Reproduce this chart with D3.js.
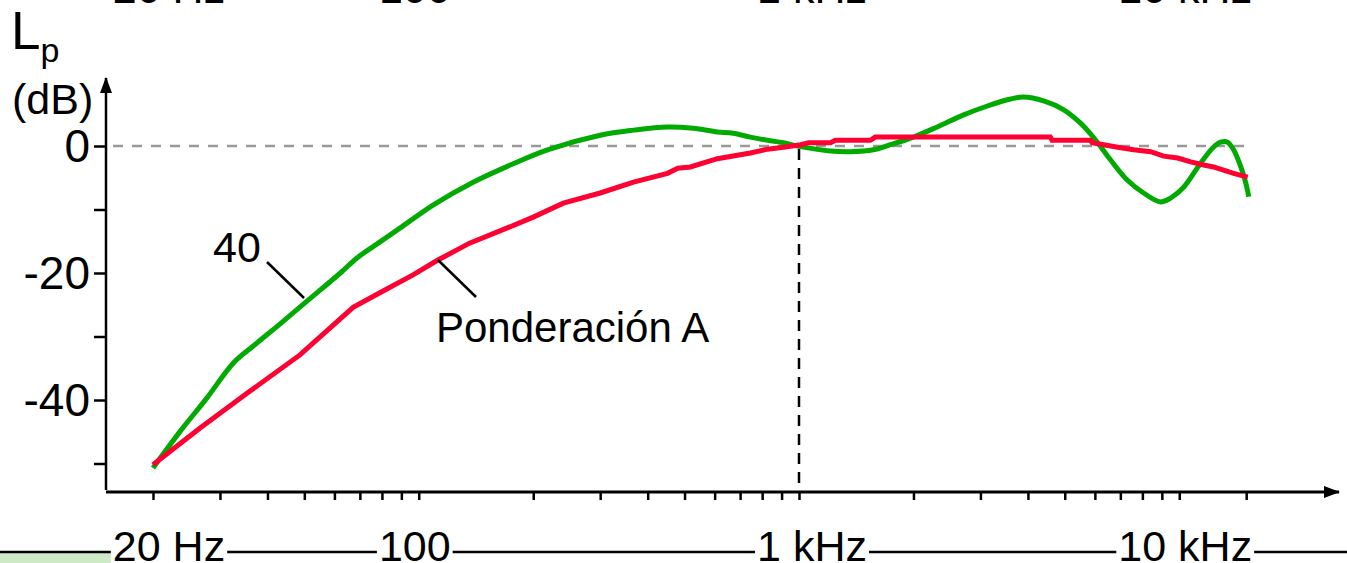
<!doctype html>
<html>
<head>
<meta charset="utf-8">
<script src="https://cdn.jsdelivr.net/npm/d3@7"></script>
<style>
  body { margin: 0; background: #fff; }
  svg { display: block; font-family: "Liberation Sans", Arial, sans-serif; }
</style>
</head>
<body>
<svg width="1347" height="563"></svg>
<script>
// ---- data ----
var freqTicks = [20, 30, 40, 50, 60, 70, 80, 90, 100,
                 200, 300, 400, 500, 600, 700, 800, 900, 1000,
                 2000, 3000, 4000, 5000, 6000, 7000, 8000, 9000, 10000, 15000];
var dbTicks = [0, -10, -20, -30, -40, -50];
var dbLabels = [0, -20, -40];
var bandFreqs = [20, 100, 1000, 10000];
var bandLabels = ["20 Hz", "100", "1 kHz", "10 kHz"];

// 40 phon curve
var greenFreq = [20, 23.6, 27.7, 32.5, 36.7, 43.2, 50.9, 62.2, 68.9, 79.1, 89.4, 109, 139, 174, 218,
                 300, 367, 451, 527, 610, 671, 745, 826, 910, 1010, 1210, 1365, 1570, 1740, 2000,
                 2310, 2710, 3130, 3600, 3890, 4400, 4970, 5500, 5960, 6600, 7310, 8060, 8930, 9490,
                 10270, 11380, 12300, 12850, 13400, 13900, 14520, 14960, 15240];
var greenDb = [-50.7, -44.9, -39.7, -34.2, -31.5, -28.0, -24.4, -20.0, -17.6, -15.1, -12.9, -9.3, -5.7, -3.0, -0.6,
               1.7, 2.5, 3.0, 2.8, 2.2, 2.0, 1.4, 0.9, 0.5, -0.1, -0.8, -0.9, -0.6, 0.2, 1.4,
               3.0, 4.9, 6.3, 7.4, 7.7, 7.1, 5.7, 3.6, 1.3, -2.2, -5.4, -7.4, -8.8, -8.2,
               -6.5, -2.7, -0.2, 0.6, 0.6, -0.6, -3.3, -5.8, -8.0];

// A weighting
var redFreq = [20, 26.6, 36, 48.7, 67.2, 79, 96.6, 112, 136, 171, 200, 240, 300, 367, 451, 480, 518,
               610, 745, 826, 910, 1010, 1060, 1210, 1247, 1540, 1587, 4580, 4630, 5850, 5900,
               6890, 7590, 8410, 9100, 9910, 10720, 11600, 12300, 13080, 13900, 15140];
var redDb = [-50.2, -44.4, -38.6, -32.9, -25.4, -23.1, -20.3, -18.0, -15.3, -12.9, -11.2, -9.0, -7.4, -5.7, -4.3, -3.5, -3.3,
             -2.0, -1.1, -0.5, -0.2, 0.2, 0.5, 0.5, 0.9, 0.9, 1.4, 1.4, 0.9, 0.9, 0.5,
             -0.2, -0.6, -0.9, -1.6, -1.9, -2.5, -3.0, -3.3, -3.8, -4.3, -4.9];

// ---- layout ----
var svg = d3.select("svg");
var xScale = d3.scaleLog().domain([20, 1000]).range([153, 799]);
var yScale = d3.scaleLinear().domain([0, -50]).range([146, 463.5]);
var axisX = 106, axisY = 492;
var labelShift = [16, -4, 13, 6];

svg.append("rect").attr("width", 1347).attr("height", 563).attr("fill", "#fff");

// arrow heads
var defs = svg.append("defs");
defs.append("marker")
    .attr("id", "arrow")
    .attr("markerUnits", "userSpaceOnUse")
    .attr("viewBox", "0 0 16 12")
    .attr("refX", 15).attr("refY", 6)
    .attr("markerWidth", 16).attr("markerHeight", 12)
    .attr("orient", "auto")
  .append("path")
    .attr("d", "M0,0 L16,6 L0,12 Z")
    .attr("fill", "#000");

// y axis
var yAxis = d3.axisLeft(yScale)
    .tickValues(dbTicks)
    .tickSize(12)
    .tickPadding(4)
    .tickFormat(function(d) { return dbLabels.indexOf(d) >= 0 ? d : ""; });
var yG = svg.append("g").attr("transform", "translate(" + axisX + ",0)").call(yAxis);
yG.select(".domain").remove();
yG.selectAll(".tick line").attr("stroke", "#000").attr("stroke-width", 2.5);
yG.selectAll(".tick text")
  .attr("fill", "#000")
  .attr("dy", "0.34em")
  .style("font-size", "46px")
  .style("font-family", "'Liberation Sans', Arial, sans-serif");

svg.append("line")
   .attr("x1", axisX).attr("y1", axisY - 2)
   .attr("x2", axisX).attr("y2", 78)
   .attr("stroke", "#000").attr("stroke-width", 2.5)
   .attr("marker-end", "url(#arrow)");

// x axis
var xAxis = d3.axisBottom(xScale)
    .tickValues(freqTicks)
    .tickSize(8)
    .tickFormat("");
var xG = svg.append("g").attr("transform", "translate(0," + axisY + ")").call(xAxis);
xG.select(".domain").remove();
xG.selectAll(".tick line").attr("stroke", "#000").attr("stroke-width", 2.5);

svg.append("line")
   .attr("x1", axisX).attr("y1", axisY)
   .attr("x2", 1339).attr("y2", axisY)
   .attr("stroke", "#000").attr("stroke-width", 3)
   .attr("marker-end", "url(#arrow)");

// 0 dB reference and 1 kHz marker
svg.append("line")
   .attr("x1", 113).attr("x2", xScale(15000))
   .attr("y1", yScale(0)).attr("y2", yScale(0))
   .attr("stroke", "#999").attr("stroke-width", 2.5)
   .attr("stroke-dasharray", "10,9");
svg.append("line")
   .attr("x1", xScale(1000)).attr("x2", xScale(1000))
   .attr("y1", yScale(0) + 3).attr("y2", axisY - 2)
   .attr("stroke", "#000").attr("stroke-width", 2.5)
   .attr("stroke-dasharray", "11,8");

// curves
var greenLine = d3.line()
    .x(function(d, i) { return xScale(greenFreq[i]); })
    .y(function(d) { return yScale(d); })
    .curve(d3.curveCatmullRom.alpha(0.5));
svg.append("path")
   .attr("d", greenLine(greenDb))
   .attr("fill", "none")
   .attr("stroke", "#00aa00")
   .attr("stroke-width", 5);

var redLine = d3.line()
    .x(function(d, i) { return xScale(redFreq[i]); })
    .y(function(d) { return yScale(d); });
svg.append("path")
   .attr("d", redLine(redDb))
   .attr("fill", "none")
   .attr("stroke", "#ff0033")
   .attr("stroke-width", 5);

// curve labels with leader lines
svg.append("line").attr("x1", 267).attr("y1", 262).attr("x2", 304).attr("y2", 298)
   .attr("stroke", "#000").attr("stroke-width", 2.5);
svg.append("text").attr("x", 213).attr("y", 262)
   .style("font-size", "43px").text("40");
svg.append("line").attr("x1", 438).attr("y1", 260).attr("x2", 476).attr("y2", 297)
   .attr("stroke", "#000").attr("stroke-width", 2.5);
svg.append("text").attr("x", 436).attr("y", 342)
   .style("font-size", "42px").text("Ponderación A");

// axis title
var title = svg.append("text").attr("x", 11).attr("y", 49).style("font-size", "53px");
title.append("tspan").text("L");
title.append("tspan").attr("dy", 13).style("font-size", "34px").text("p");
svg.append("text").attr("x", 12).attr("y", 114).style("font-size", "43px").text("(dB)");

// frequency band strip at the bottom
svg.append("rect").attr("x", 0).attr("y", 553).attr("width", 113).attr("height", 10)
   .attr("fill", "#cde9c6");
svg.append("line").attr("x1", 0).attr("x2", 1347).attr("y1", 552).attr("y2", 552)
   .attr("stroke", "#000").attr("stroke-width", 2.5);

function bandRow(y, withBg) {
  bandLabels.forEach(function(lab, i) {
    var cx = xScale(bandFreqs[i]) + labelShift[i];
    var t = svg.append("text")
       .attr("x", cx).attr("y", y)
       .attr("text-anchor", "middle")
       .style("font-size", "43px")
       .text(lab);
    if (withBg) {
      var w = t.node().getComputedTextLength();
      svg.insert("rect", function() { return t.node(); })
         .attr("x", cx - w / 2 - 2).attr("y", y - 34)
         .attr("width", w + 4).attr("height", 40)
         .attr("fill", "#fff");
    }
  });
}
bandRow(561, true);
bandRow(3, false);
</script>
</body>
</html>
